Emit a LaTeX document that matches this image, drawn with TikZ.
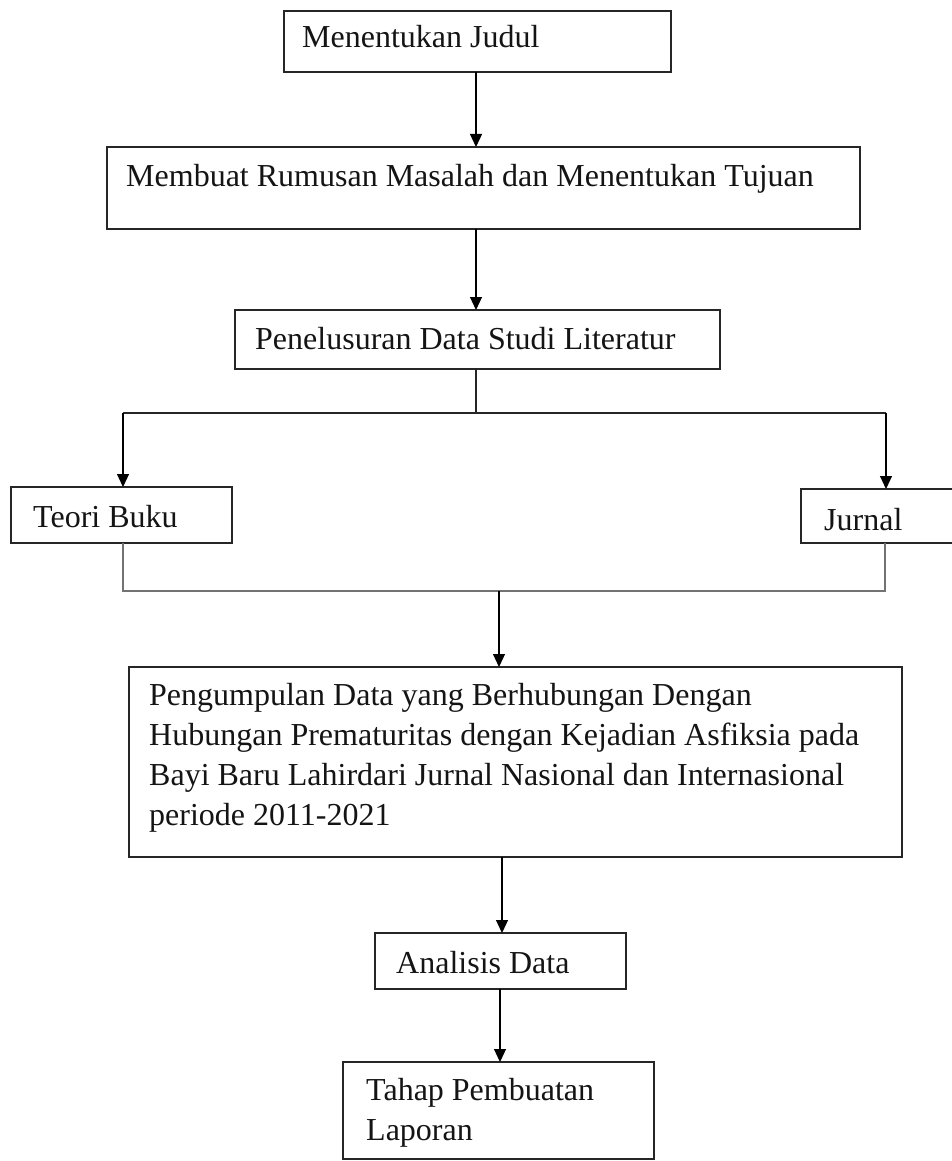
\documentclass[tikz,border=0pt]{standalone}
\usepackage{fontspec}
\setmainfont{Liberation Serif}
\usetikzlibrary{arrows.meta}
\begin{document}
\begin{tikzpicture}[x=1pt,y=-1pt,
  box/.style={draw=black!85, line width=1.5pt, inner sep=0pt, outer sep=0pt, rectangle, anchor=north west},
  lbl/.style={anchor=base west, inner sep=0pt, font=\fontsize{32}{40}\selectfont, align=left, text=black!92},
  arr/.style={draw=black, line width=1.2pt, -{Triangle[length=13pt,width=12pt]}},
  lnd/.style={draw=black!85, line width=1.2pt},
  lng/.style={draw=black!55, line width=1.2pt}]
\useasboundingbox (0,0) rectangle (951,1161);
% boxes
\node[box, minimum width=387pt, minimum height=61pt] (b1) at (284,11) {};
\node[box, minimum width=753pt, minimum height=82pt] (b2) at (107,147) {};
\node[box, minimum width=485pt, minimum height=59pt] (b3) at (235,310) {};
\node[box, minimum width=221pt, minimum height=56pt] (b4) at (11,487) {};
\node[box, minimum width=158pt, minimum height=54pt] (b5) at (801,489) {};
\node[box, minimum width=773pt, minimum height=190pt] (b6) at (129,667) {};
\node[box, minimum width=251pt, minimum height=56pt] (b7) at (375,933) {};
\node[box, minimum width=311pt, minimum height=97pt] (b8) at (343,1062) {};
% texts (multi-line nodes are placed by the baseline of their last line)
\node[lbl] (t1) at (302,48) {Menentukan Judul};
\node[lbl] (t2) at (126,186) {Membuat Rumusan Masalah dan Menentukan Tujuan};
\node[lbl] (t3) at (255,349) {Penelusuran Data Studi Literatur};
\node[lbl] (t4) at (33,527) {Teori Buku};
\node[lbl] (t5) at (824,530) {Jurnal};
\node[lbl] (t6) at (149,825) {Pengumpulan Data yang Berhubungan Dengan\\Hubungan Prematuritas dengan Kejadian Asfiksia pada\\Bayi Baru Lahirdari Jurnal Nasional dan Internasional\\periode 2011-2021};
\node[lbl] (t7) at (396,973) {Analisis Data};
\node[lbl] (t8) at (366,1140) {Tahap Pembuatan\\Laporan};
% connector guides
\coordinate (cx1) at (476,0);
\coordinate (sp) at (476,413);
\coordinate (spL) at (123,413);
\coordinate (spR) at (886,413);
\coordinate (mL) at (123,591);
\coordinate (mR) at (885,591);
\coordinate (mC) at (499,591);
\coordinate (cx6) at (502,0);
\coordinate (cx7) at (500,0);
% connectors
\draw[arr] (cx1 |- b1.south) -- (cx1 |- b2.north);
\draw[arr] (cx1 |- b2.south) -- (cx1 |- b3.north);
\draw[lnd] (cx1 |- b3.south) -- (sp);
\draw[lnd] (spL) -- (spR);
\draw[arr] (spL) -- (spL |- b4.north);
\draw[arr] (spR) -- (spR |- b5.north);
\draw[lng] (mL |- b4.south) -- (mL) -- (mR) -- (mR |- b5.south);
\draw[arr] (mC) -- (mC |- b6.north);
\draw[arr] (cx6 |- b6.south) -- (cx6 |- b7.north);
\draw[arr] (cx7 |- b7.south) -- (cx7 |- b8.north);
\end{tikzpicture}
\end{document}
